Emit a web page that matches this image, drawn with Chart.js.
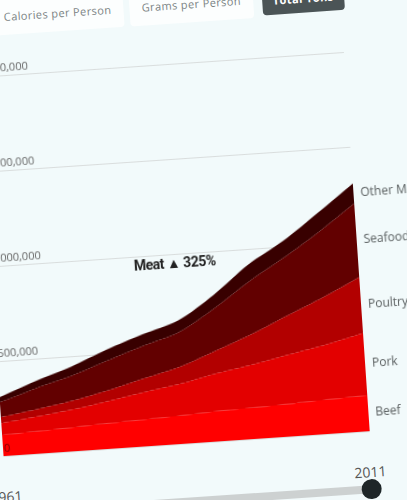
<!DOCTYPE html>
<html>
<head>
<meta charset="utf-8">
<script src="https://cdn.jsdelivr.net/npm/chart.js@4"></script>
<style>
  html, body { margin: 0; padding: 0; background: #f2fafb; overflow: hidden; width: 407px; height: 500px; }
  #stage { position: absolute; left: 0; top: 0; width: 407px; height: 500px; transform: rotate(-3.9deg); transform-origin: 203.5px 250px; font-family: "Open Sans", sans-serif; }
  .btn { position: absolute; top: -14px; height: 36px; line-height: 36px; text-align: center; font-size: 11px; letter-spacing: 0.4px; color: #7a8283; background: #fcfefe; border-radius: 4px; }
  .btn.on { background: #4b5456; color: #fff; font-weight: bold; height: 34px; line-height: 40px; overflow: hidden; }
  #wrap { position: absolute; left: -30px; top: 40px; width: 460px; height: 420px; }
  #note { position: absolute; left: 133px; top: 253px; font: bold 14px Roboto, sans-serif; letter-spacing: -0.5px; color: #222; white-space: nowrap; }
  .yr { position: absolute; top: 473px; width: 60px; margin-left: -30px; text-align: center; font-size: 14px; color: #555; }
  #track { position: absolute; left: -10px; top: 496px; width: 365px; height: 8px; background: #cdd1d1; border-radius: 4px; }
  .knob { position: absolute; top: 490px; width: 20px; height: 20px; margin-left: -10px; border-radius: 50%; background: #1e2628; }
</style>
</head>
<body>
<div id="stage">
  <div class="btn" style="left:8px;width:132px;">Calories per Person</div>
  <div class="btn" style="left:146px;width:124px;">Grams per Person</div>
  <div class="btn on" style="left:279px;width:82px;">Total Tons</div>
  <div id="wrap"><canvas id="chart" width="460" height="420"></canvas></div>
  <div id="note">Meat ▲ 325%</div>
  <div id="track"></div>
  <div class="knob" style="left:-10px;"></div>
  <div class="knob" style="left:355px;"></div>
  <div class="yr" style="left:-10px;">1961</div>
  <div class="yr" style="left:355px;">2011</div>
</div>
<script>
const years = [1961, 1966, 1971, 1976, 1981, 1986, 1991, 1996, 2001, 2006, 2011];
const beef = [110000, 118000, 126000, 135000, 142000, 150000, 160000, 166000, 173000, 181000, 190000];
const pork = [63000, 78000, 95000, 118000, 145000, 168000, 200000, 228000, 260000, 290000, 327000];
const poultry = [32000, 38000, 46000, 56000, 72000, 90000, 120000, 160000, 205000, 250000, 295000];
const seafood = [79000, 110000, 130000, 155000, 170000, 180000, 220000, 275000, 305000, 345000, 389000];
const otherMeat = [26000, 38000, 48000, 58000, 60000, 62000, 70000, 88000, 87000, 100000, 106000];
const yTicks = [0, 500000, 1000000, 1500000, 2000000];

function pts(arr) {
    return arr.map((v, i) => ({ x: years[i], y: v }));
}

const sideLabels = {
    id: "sideLabels",
    afterDatasetsDraw(chart) {
        const ctx = chart.ctx;
        const area = chart.chartArea;
        let prevY = chart.scales.y.getPixelForValue(0);
        ctx.save();
        ctx.font = '12px "Open Sans"';
        ctx.fillStyle = "#5a5f60";
        ctx.textAlign = "left";
        ctx.textBaseline = "middle";
        chart.data.datasets.forEach((ds, i) => {
            const meta = chart.getDatasetMeta(i);
            const pt = meta.data[meta.data.length - 1];
            ctx.fillText(ds.label, area.right + 7, (pt.y + prevY) / 2);
            prevY = pt.y;
        });
        ctx.restore();
    }
};

const data = {
    datasets: [
        { label: "Beef", data: pts(beef), backgroundColor: "#ff0000", fill: "origin" },
        { label: "Pork", data: pts(pork), backgroundColor: "#e30000", fill: "-1" },
        { label: "Poultry", data: pts(poultry), backgroundColor: "#b20000", fill: "-1" },
        { label: "Seafood", data: pts(seafood), backgroundColor: "#620000", fill: "-1" },
        { label: "Other Meat", data: pts(otherMeat), backgroundColor: "#380000", fill: "-1" },
    ],
};

const config = {
    type: "line",
    data: data,
    plugins: [sideLabels],
    options: {
        responsive: false,
        animation: false,
        layout: { padding: { left: 20, right: 73, top: 22, bottom: 18 } },
        elements: {
            point: { radius: 0 },
            line: { borderWidth: 0, tension: 0.3 },
        },
        plugins: { legend: { display: false }, tooltip: { enabled: false } },
        scales: {
            x: { type: "linear", min: years[0], max: years[years.length - 1], display: false },
            y: {
                stacked: true,
                min: 0,
                max: yTicks[yTicks.length - 1],
                afterFit: (s) => { s.width = 0; },
                afterBuildTicks: (s) => { s.ticks = yTicks.map((v) => ({ value: v })); },
                border: { display: false },
                grid: { color: "#d9dddd", drawTicks: false, z: -1 },
                ticks: {
                    z: 1,
                    mirror: true,
                    padding: 1,
                    labelOffset: -7,
                    font: { family: "Open Sans", size: 11 },
                    color: (c) => (c.tick && c.tick.value === 0 ? "#7a0000" : "#666"),
                    callback: (v) => v.toLocaleString("en-US"),
                },
            },
        },
    },
};

const myChart = new Chart(document.getElementById("chart"), config);
</script>
</body>
</html>
